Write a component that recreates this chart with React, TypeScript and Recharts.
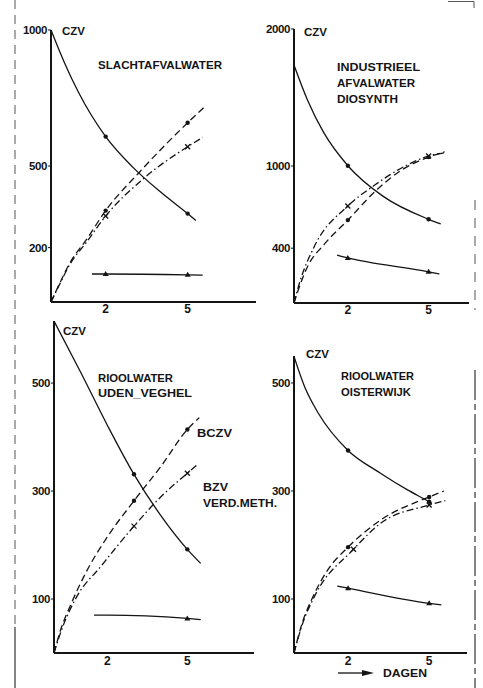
import React from 'react';
import { LineChart, Line, XAxis, YAxis } from 'recharts';

type Pt = [number, number]; // [day, value]

// values (day, CZV in mg/l)
// panel 1 - slachtafvalwater
const P1_CZV: Pt[] = [[0, 1000], [0.5, 878], [1, 772], [2, 608], [3, 495], [4, 405], [5, 325], [5.3, 300]];
const P1_BCZV: Pt[] = [[0, 0], [0.3, 65], [0.7, 145], [1.3, 230], [2, 336], [3.25, 479], [5, 659], [5.6, 716]];
const P1_BZV: Pt[] = [[0, 0], [0.3, 62], [0.7, 140], [1.3, 220], [2, 316], [3.4, 455], [5, 571], [5.55, 605]];
const P1_REST: Pt[] = [[1.5, 103], [2, 103], [5, 100], [5.55, 99]];

// panel 2 - industrieel afvalwater diosynth
const P2_CZV: Pt[] = [[0, 1737], [0.5, 1482], [1.1, 1245], [2, 1002], [3.3, 780], [5, 611], [5.45, 577]];
const P2_BCZV: Pt[] = [[0, 0], [0.15, 90], [0.5, 265], [1.1, 423], [2, 605], [3, 812], [4, 971], [5, 1065], [5.6, 1104]];
const P2_BZV: Pt[] = [[0, 0], [0.2, 144], [0.75, 411], [2, 708], [3, 861], [4.2, 1007], [5, 1073], [5.6, 1097]];
const P2_REST: Pt[] = [[1.6, 350], [2, 329], [5, 228], [5.4, 212]];

// panel 3 - rioolwater uden-veghel
const P3_CZV: Pt[] = [[0, 615], [1, 520], [2, 422], [3, 331], [4, 255], [5, 192], [5.5, 166]];
const P3_BCZV: Pt[] = [[0, 0], [0.25, 43], [0.65, 92], [1.25, 154], [2, 215], [3, 282], [4, 345], [5, 414], [5.45, 436]];
const P3_BZV: Pt[] = [[0, 0], [0.3, 45], [0.85, 104], [1.75, 160], [3, 235], [4, 289], [5, 333], [5.35, 348]];
const P3_REST: Pt[] = [[1.5, 70], [2, 70], [5, 64], [5.5, 62]];

// panel 4 - rioolwater oisterwijk
const P4_CZV: Pt[] = [[0, 549], [0.4, 492], [0.9, 444], [2, 375], [3.2, 333], [4.2, 302], [5, 280], [5.1, 277]];
const P4_BCZV: Pt[] = [[0, 0], [0.3, 55], [0.7, 104], [1.25, 154], [2, 196], [3.2, 246], [5, 289], [5.55, 300]];
const P4_BZV: Pt[] = [[0, 0], [0.3, 52], [0.75, 104], [2.2, 192], [3.2, 240], [5, 274], [5.6, 282]];
const P4_REST: Pt[] = [[1.6, 124], [2, 120], [5, 92], [5.45, 89]];

const X_TICKS = [2, 5];
const Y_TICKS_1 = [200, 500, 1000];
const Y_TICKS_2 = [400, 1000, 2000];
const Y_TICKS_3 = [100, 300, 500];
const Y_TICKS_4 = [100, 300, 500];

const FONT = '"Liberation Sans", Arial, sans-serif';
const INK = '#141414';
const DASH = '7 4';
const DASH_DOT = '7 3 1.5 3';

type Kind = 'dot' | 'cross' | 'tri';
type Series = { pts: Pt[]; dash?: string; kind: Kind; marks: number[] };

const toRows = (pts: Pt[]) => pts.map(([day, v]) => ({ day, v }));

const makeDot = (kind: Kind, marks: number[]) => (props: any) => {
  const { cx, cy, payload, index } = props;
  const k = `m${index}`;
  if (cx == null || cy == null || !marks.includes(payload.day)) return <g key={k} />;
  if (kind === 'cross') {
    return (
      <g key={k} stroke={INK} strokeWidth={1.3}>
        <line x1={cx - 2.5} y1={cy - 2.5} x2={cx + 2.5} y2={cy + 2.5} />
        <line x1={cx - 2.5} y1={cy + 2.5} x2={cx + 2.5} y2={cy - 2.5} />
      </g>
    );
  }
  if (kind === 'tri') {
    return <polygon key={k} points={`${cx},${cy - 3} ${cx - 3},${cy + 2} ${cx + 3},${cy + 2}`} fill={INK} />;
  }
  return <circle key={k} cx={cx} cy={cy} r={2.2} fill={INK} />;
};

type PanelProps = {
  x0: number; y0: number; w: number; h: number;
  xMax: number; yMax: number; yTicks: number[]; series: Series[]; tickGap?: number;
};

const Panel = ({ x0, y0, w, h, xMax, yMax, yTicks, series, tickGap = 2 }: PanelProps) => {
  const YW = 40, MT = 10, MR = 6, XH = 24;
  return (
    <div style={{ position: 'absolute', left: x0 - YW, top: y0 - MT }}>
      <LineChart width={YW + w + MR} height={MT + h + XH} margin={{ top: MT, right: MR, bottom: 0, left: 0 }}>
        <XAxis
          type="number" dataKey="day" domain={[0, xMax]} ticks={X_TICKS} allowDataOverflow interval={0}
          height={XH} tickLine={false} tickSize={0} tickMargin={tickGap}
          axisLine={{ stroke: INK, strokeWidth: 2 }}
          tick={{ fill: INK, fontSize: 12, fontWeight: 700, fontFamily: FONT }}
        />
        <YAxis
          type="number" domain={[0, yMax]} ticks={yTicks} allowDataOverflow interval={0}
          width={YW} tickSize={3} tickMargin={1}
          axisLine={{ stroke: INK, strokeWidth: 2 }} tickLine={{ stroke: INK }}
          tick={{ fill: INK, fontSize: 11.5, fontWeight: 700, fontFamily: FONT, letterSpacing: -0.4 }}
        />
        {series.map((s, i) => (
          <Line
            key={i} data={toRows(s.pts)} dataKey="v" type="monotone"
            stroke={INK} strokeWidth={1.3} strokeDasharray={s.dash}
            dot={makeDot(s.kind, s.marks)} activeDot={false} isAnimationActive={false}
          />
        ))}
      </LineChart>
    </div>
  );
};

const lines = (czv: Pt[], bczv: Pt[], bzv: Pt[], rest: Pt[], marks: number[], bzvMarks = marks): Series[] => [
  { pts: czv, kind: 'dot', marks },
  { pts: bczv, dash: DASH, kind: 'dot', marks },
  { pts: bzv, dash: DASH_DOT, kind: 'cross', marks: bzvMarks },
  { pts: rest, kind: 'tri', marks },
];

const Txt = ({ x, y, len, children }: { x: number; y: number; len?: number; children: string }) => (
  <text x={x} y={y} fill={INK} fontFamily={FONT} fontSize={11.5} fontWeight={700}
    textLength={len} lengthAdjust={len ? 'spacingAndGlyphs' : undefined}>
    {children}
  </text>
);

export default function App() {
  return (
    <div style={{ position: 'absolute', left: 0, top: 0, width: 483, height: 688, background: '#fff', overflow: 'hidden' }}>
      <Panel x0={51} y0={30} w={205} h={272} xMax={7.5} yMax={1000} yTicks={Y_TICKS_1}
        series={lines(P1_CZV, P1_BCZV, P1_BZV, P1_REST, [2, 5])} />
      <Panel x0={294} y0={29} w={175} h={274} xMax={6.5} yMax={2000} yTicks={Y_TICKS_2}
        series={lines(P2_CZV, P2_BCZV, P2_BZV, P2_REST, [2, 5])} />
      <Panel x0={54} y0={321} w={200} h={332} xMax={7.5} yMax={615} yTicks={Y_TICKS_3} tickGap={3}
        series={lines(P3_CZV, P3_BCZV, P3_BZV, P3_REST, [3, 5])} />
      <Panel x0={294} y0={356} w={173} h={297} xMax={6.4} yMax={550} yTicks={Y_TICKS_4} tickGap={3}
        series={lines(P4_CZV, P4_BCZV, P4_BZV, P4_REST, [2, 5], [2.2, 5])} />

      <svg width={483} height={688} style={{ position: 'absolute', left: 0, top: 0, pointerEvents: 'none' }}>
        {/* scan edges */}
        <line x1={15} y1={0} x2={15} y2={627} stroke="#555" strokeDasharray="9 6" />
        <line x1={15} y1={627} x2={15} y2={688} stroke="#333" strokeWidth={1.2} />
        <line x1={475} y1={200} x2={475} y2={310} stroke="#555" strokeDasharray="10 8" />
        <line x1={475} y1={370} x2={475} y2={688} stroke="#444" strokeWidth={1.3} strokeDasharray="30 4 6 4" />
        <polyline points="448,1.5 474,1.5 474,8" fill="none" stroke="#555" />

        <Txt x={62} y={35}>CZV</Txt>
        <Txt x={98} y={69} len={124}>SLACHTAFVALWATER</Txt>

        <Txt x={304} y={36}>CZV</Txt>
        <Txt x={337} y={71} len={83}>INDUSTRIEEL</Txt>
        <Txt x={337} y={87} len={78}>AFVALWATER</Txt>
        <Txt x={337} y={103} len={61}>DIOSYNTH</Txt>

        <Txt x={63} y={335}>CZV</Txt>
        <Txt x={98} y={382} len={75}>RIOOLWATER</Txt>
        <Txt x={98} y={397} len={94}>UDEN_VEGHEL</Txt>
        <Txt x={197} y={437} len={35}>BCZV</Txt>
        <Txt x={203} y={491} len={25}>BZV</Txt>
        <Txt x={203} y={507} len={74}>VERD.METH.</Txt>

        <Txt x={306} y={358}>CZV</Txt>
        <Txt x={341} y={380} len={73}>RIOOLWATER</Txt>
        <Txt x={341} y={396} len={70}>OISTERWIJK</Txt>

        <line x1={338} y1={673} x2={364} y2={673} stroke={INK} strokeWidth={1.3} />
        <polygon points="362,670 374,673 362,676" fill={INK} />
        <Txt x={383} y={677} len={44}>DAGEN</Txt>
      </svg>
    </div>
  );
}
